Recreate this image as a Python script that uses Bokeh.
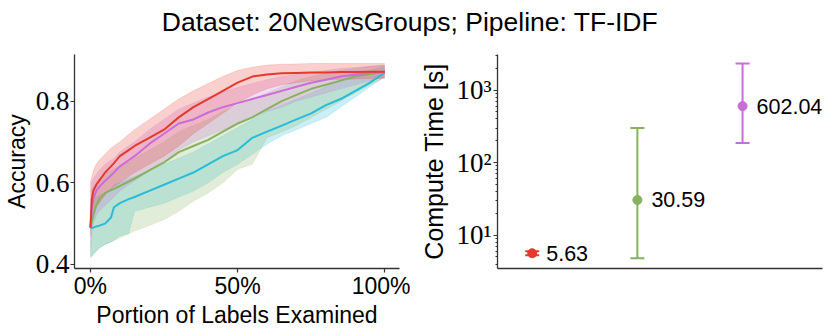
import numpy as np
from bokeh.plotting import figure
from bokeh.layouts import column, row
from bokeh.models import Range1d, FixedTicker, PrintfTickFormatter, CustomJSTickFormatter, ColumnDataSource
from bokeh.core.properties import value
from bokeh.embed import file_html
from bokeh.resources import INLINE

TITLE = "Dataset: 20NewsGroups; Pipeline: TF-IDF"

# ---- left panel data: accuracy vs portion of labels examined (%) ----
portion = [0, 0.5, 1, 2, 3, 5, 7, 8, 10, 13, 15, 20, 25, 30, 35, 40, 45, 50, 55, 60, 65, 70, 75, 80, 85, 90, 95, 100]

red_mean = [0.49, 0.56, 0.58, 0.595, 0.605, 0.625, 0.64, 0.648, 0.665, 0.68, 0.69, 0.71, 0.73, 0.76, 0.785, 0.805, 0.825, 0.845, 0.86, 0.865, 0.868, 0.869, 0.87, 0.87, 0.871, 0.871, 0.872, 0.872]
red_hi = [0.60, 0.615, 0.63, 0.645, 0.655, 0.67, 0.685, 0.69, 0.70, 0.718, 0.73, 0.755, 0.78, 0.805, 0.825, 0.843, 0.86, 0.875, 0.883, 0.888, 0.89, 0.891, 0.892, 0.892, 0.892, 0.892, 0.892, 0.892]
red_lo = [0.47, 0.50, 0.52, 0.54, 0.55, 0.57, 0.585, 0.59, 0.60, 0.615, 0.625, 0.645, 0.665, 0.69, 0.72, 0.745, 0.77, 0.795, 0.815, 0.83, 0.84, 0.845, 0.85, 0.852, 0.853, 0.854, 0.855, 0.856]

purple_mean = [0.49, 0.54, 0.56, 0.58, 0.59, 0.605, 0.618, 0.625, 0.64, 0.655, 0.665, 0.695, 0.72, 0.745, 0.755, 0.772, 0.785, 0.795, 0.805, 0.815, 0.825, 0.835, 0.845, 0.852, 0.86, 0.865, 0.869, 0.872]
purple_hi = [0.60, 0.60, 0.61, 0.62, 0.63, 0.645, 0.655, 0.66, 0.675, 0.69, 0.70, 0.73, 0.755, 0.78, 0.795, 0.81, 0.822, 0.833, 0.843, 0.852, 0.86, 0.865, 0.87, 0.875, 0.88, 0.882, 0.885, 0.888]
purple_lo = [0.42, 0.48, 0.50, 0.52, 0.53, 0.545, 0.558, 0.565, 0.58, 0.595, 0.605, 0.63, 0.655, 0.68, 0.70, 0.715, 0.73, 0.745, 0.76, 0.775, 0.785, 0.80, 0.81, 0.82, 0.83, 0.84, 0.85, 0.858]

green_mean = [0.49, 0.505, 0.52, 0.545, 0.56, 0.575, 0.582, 0.585, 0.592, 0.603, 0.61, 0.63, 0.65, 0.675, 0.69, 0.705, 0.725, 0.745, 0.76, 0.78, 0.80, 0.815, 0.83, 0.84, 0.85, 0.86, 0.866, 0.872]
green_hi = [0.58, 0.585, 0.59, 0.60, 0.61, 0.62, 0.63, 0.635, 0.64, 0.65, 0.66, 0.68, 0.70, 0.725, 0.74, 0.755, 0.775, 0.79, 0.805, 0.82, 0.835, 0.85, 0.86, 0.868, 0.875, 0.88, 0.885, 0.888]
green_lo = [0.42, 0.42, 0.425, 0.432, 0.44, 0.449, 0.455, 0.458, 0.465, 0.475, 0.482, 0.495, 0.51, 0.53, 0.555, 0.575, 0.60, 0.633, 0.645, 0.71, 0.725, 0.74, 0.76, 0.78, 0.80, 0.82, 0.84, 0.857]

cyan_mean = [0.49, 0.49, 0.49, 0.493, 0.495, 0.50, 0.515, 0.54, 0.55, 0.56, 0.565, 0.58, 0.595, 0.61, 0.625, 0.645, 0.665, 0.68, 0.71, 0.725, 0.74, 0.755, 0.77, 0.79, 0.805, 0.825, 0.845, 0.87]
cyan_hi = [0.56, 0.56, 0.56, 0.565, 0.57, 0.575, 0.585, 0.595, 0.60, 0.61, 0.615, 0.63, 0.645, 0.66, 0.675, 0.695, 0.715, 0.735, 0.755, 0.775, 0.79, 0.805, 0.82, 0.835, 0.85, 0.865, 0.875, 0.885]
cyan_lo = [0.415, 0.42, 0.425, 0.432, 0.44, 0.449, 0.455, 0.46, 0.47, 0.475, 0.53, 0.54, 0.55, 0.565, 0.58, 0.60, 0.625, 0.645, 0.67, 0.695, 0.715, 0.73, 0.745, 0.76, 0.785, 0.81, 0.835, 0.86]

x_ticks = [0, 50, 100]
y_ticks = [0.4, 0.6, 0.8]

# ---- right panel data: compute time ----
method_index = [0, 1, 2]
time_mean = [5.63, 30.59, 602.04]
time_lo = [5.3, 4.8, 187.0]
time_hi = [6.0, 301.0, 2335.0]
log_ticks = [10, 100, 1000]
log_minor = [4, 5, 6, 7, 8, 9, 20, 30, 40, 50, 60, 70, 80, 90, 200, 300, 400, 500, 600, 700, 800, 900, 2000, 3000]

RED = "#e5392f"
PURPLE = "#c96dd8"
GREEN = "#86b25f"
CYAN = "#27bcd9"
AX = "#333333"

SANS = "Liberation Sans"
SERIF = "Liberation Serif"


def style_axes(p):
    p.outline_line_color = None
    p.xgrid.grid_line_color = None
    p.ygrid.grid_line_color = None
    p.background_fill_color = "white"
    p.border_fill_color = "white"
    for ax in p.axis:
        ax.axis_line_color = AX
        ax.axis_line_width = 1.3
        ax.major_tick_line_color = AX
        ax.major_tick_line_width = 1.2
        ax.major_tick_in = 0
        ax.major_tick_out = 4
        ax.minor_tick_line_color = None
        ax.axis_label_text_font_style = "normal"
        ax.axis_label_text_color = "black"
        ax.major_label_text_color = "black"


# ---- title ----
pt = figure(width=819, height=37, output_backend="svg", toolbar_location=None,
            x_range=Range1d(-1, 1), y_range=Range1d(-1, 1), min_border=0)
pt.axis.visible = False
pt.grid.visible = False
pt.outline_line_color = None
pt.text(x=[0], y=[0], text=[TITLE], text_align="center", text_baseline="middle", y_offset=3,
        text_font=value(SANS), text_font_size="26.5px", text_color="black")

# ---- left ----
p1 = figure(frame_width=325, frame_height=214, output_backend="svg", toolbar_location=None,
            x_range=Range1d(-5.4, 105), y_range=Range1d(0.39, 0.914),
            min_border_left=70, min_border_right=11, min_border_top=17, min_border_bottom=59)
style_axes(p1)
series = [(cyan_lo, cyan_hi, cyan_mean, CYAN), (green_lo, green_hi, green_mean, GREEN),
          (purple_lo, purple_hi, purple_mean, PURPLE), (red_lo, red_hi, red_mean, RED)]
for lo, hi, m, c in series:
    p1.varea(x=portion, y1=lo, y2=hi, fill_color=c, fill_alpha=0.24)
    p1.line(x=portion, y=lo, line_color=c, line_alpha=0.15, line_width=1)
    p1.line(x=portion, y=hi, line_color=c, line_alpha=0.15, line_width=1)
for lo, hi, m, c in series:
    p1.line(x=portion, y=m, line_color=c, line_width=2)
p1.xaxis.ticker = FixedTicker(ticks=x_ticks)
p1.xaxis.formatter = PrintfTickFormatter(format="%d%%")
p1.yaxis.ticker = FixedTicker(ticks=y_ticks)
p1.xaxis.axis_label = "Portion of Labels Examined"
p1.yaxis.axis_label = "Accuracy"
p1.xaxis.major_label_text_font = SANS
p1.xaxis.major_label_text_font_size = "23px"
p1.yaxis.major_label_text_font = SERIF
p1.yaxis.major_label_text_font_size = "27px"
for ax in p1.axis:
    ax.axis_label_text_font = SANS
    ax.axis_label_text_font_size = "23px"
    ax.major_label_standoff = 1
    ax.axis_label_standoff = 3
p1.xaxis.major_label_standoff = 0
p1.xaxis.axis_label_standoff = 0

# ---- right ----
p2 = figure(frame_width=325, frame_height=214, output_backend="svg", toolbar_location=None,
            y_axis_type="log", x_range=Range1d(-0.33, 2.76), y_range=Range1d(3.47, 3100),
            min_border_left=87, min_border_right=1, min_border_top=17, min_border_bottom=59)
style_axes(p2)
colors = [RED, GREEN, PURPLE]
src = ColumnDataSource(dict(x=method_index, y=time_mean, lo=time_lo, hi=time_hi, c=colors,
                            label=[f"{v:.2f}" for v in time_mean]))
p2.segment(x0="x", y0="lo", x1="x", y1="hi", line_color="c", line_width=2, source=src)
p2.scatter(x="x", y="lo", marker="dash", size=14, line_color="c", line_width=2, source=src)
p2.scatter(x="x", y="hi", marker="dash", size=14, line_color="c", line_width=2, source=src)
p2.scatter(x="x", y="y", marker="circle", size=9, fill_color="c", line_color="c", source=src)
p2.text(x="x", y="y", text="label", x_offset=14, text_baseline="middle", text_align="left",
        text_font=value(SANS), text_font_size="21.5px", text_color="black", source=src)
p2.xaxis.ticker = FixedTicker(ticks=[])
p2.xaxis.major_tick_line_color = None
p2.xaxis.major_label_text_font_size = "0px"
p2.yaxis.ticker = FixedTicker(ticks=log_ticks, minor_ticks=log_minor)
p2.yaxis.formatter = CustomJSTickFormatter(code="""
const s = {0: '\u2070', 1: '\u00b9', 2: '\u00b2', 3: '\u00b3'};
const e = Math.round(Math.log10(tick));
return '10' + s[e];
""")
p2.yaxis.minor_tick_line_color = AX
p2.yaxis.minor_tick_in = 0
p2.yaxis.minor_tick_out = 2
p2.yaxis.major_label_text_font = SERIF
p2.yaxis.major_label_text_font_size = "27px"
p2.yaxis.major_label_standoff = 2
p2.yaxis.axis_label = "Compute Time [s]"
p2.yaxis.axis_label_text_font = SANS
p2.yaxis.axis_label_text_font_size = "25px"
p2.yaxis.axis_label_standoff = 5

layout = column(pt, row(p1, p2, spacing=0), spacing=0)
open("out.html", "w").write(file_html(layout, INLINE))
